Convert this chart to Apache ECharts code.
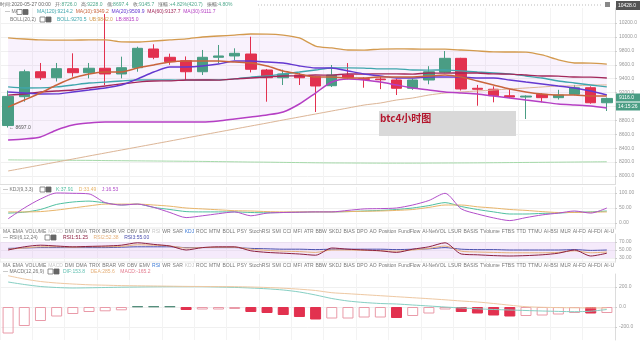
<!DOCTYPE html>
<html><head><meta charset="utf-8">
<script src="https://cdn.jsdelivr.net/npm/echarts@6/dist/echarts.min.js"></script>
<style>html,body{margin:0;padding:0;background:#fff}#c{width:640px;height:341px}</style>
</head><body><div id="c"></div>
<script>
// ---------- data ----------
const categories = ['05-21 08:00','05-21 12:00','05-21 16:00','05-21 20:00','05-22 00:00','05-22 04:00','05-22 08:00','05-22 12:00','05-22 16:00','05-22 20:00',
'05-23 00:00','05-23 04:00','05-23 08:00','05-23 12:00','05-23 16:00','05-23 20:00','05-24 00:00','05-24 04:00','05-24 08:00','05-24 12:00',
'05-24 16:00','05-24 20:00','05-25 00:00','05-25 04:00','05-25 08:00','05-25 12:00','05-25 16:00','05-25 20:00','05-26 00:00','05-26 04:00',
'05-26 08:00','05-26 12:00','05-26 16:00','05-26 20:00','05-27 00:00','05-27 04:00','05-27 08:00','05-27 12:00'];
const openP  = [8726,9141,9500,9414,9544,9486,9550,9468,9558,9827,9708,9659,9500,9708,9727,9755,9525,9414,9453,9429,9299,9453,9400,9395,9381,9262,9381,9492,9693,9262,9248,9155,9136,9175,9127,9175,9270,9054];
const closeP = [9145,9500,9414,9544,9486,9550,9468,9558,9837,9708,9645,9500,9708,9727,9765,9535,9414,9468,9414,9295,9453,9414,9390,9385,9262,9381,9500,9693,9252,9248,9155,9136,9150,9127,9165,9270,9054,9116];
const lowP   = [8697,9069,9381,9360,9429,9405,9309,9405,9500,9680,9600,9381,9453,9621,9669,9490,9069,9309,9309,8921,9280,9390,9270,9250,9165,9240,9320,9480,9230,9011,9060,9120,8820,9060,9100,9160,9040,8935];
const highP  = [9228,9530,9626,9626,9765,9626,10330,9717,9860,9895,9760,9720,9813,9885,9837,10004,9540,9530,9480,9440,9597,9625,9420,9430,9400,9400,9580,9798,9700,9310,9290,9250,9160,9190,9240,9310,9290,9130];
const bollUpper = [9986,9971,9957,9955,9955,9958,9957,9930,9928,9942,9957,9972,10000,10014,10028,10043,10042,10028,9986,9870,9842,9813,9812,9826,9828,9827,9826,9825,9813,9799,9785,9784,9783,9741,9670,9626,9625,9611];
const bollLower = [8518,8532,8561,8662,8734,8762,8777,8777,8776,8777,8778,8777,8777,8791,8820,8849,8878,8921,9036,9194,9352,9396,9381,9352,9309,9266,9237,9209,9194,9180,9151,9122,9093,9065,9036,9021,9007,8978];
const maOrange = [8993,9093,9194,9309,9410,9468,9496,9497,9554,9597,9640,9655,9656,9654,9640,9626,9583,9511,9468,9424,9425,9410,9411,9424,9423,9425,9439,9453,9424,9367,9309,9252,9209,9180,9165,9164,9151,9150];
const maPurple = [9209,9194,9180,9181,9209,9237,9266,9309,9396,9496,9568,9569,9583,9611,9655,9654,9640,9626,9583,9554,9553,9511,9468,9439,9410,9411,9424,9425,9423,9410,9409,9381,9352,9324,9295,9266,9223,9165];
const maTeal   = [9281,9266,9267,9281,9309,9338,9352,9367,9381,9382,9381,9380,9381,9382,9396,9424,9439,9468,9496,9525,9554,9555,9553,9540,9541,9525,9524,9526,9511,9496,9482,9468,9439,9410,9367,9338,9309,9281];
const maMaroon = [9165,9180,9209,9223,9237,9266,9295,9324,9352,9367,9368,9381,9382,9380,9396,9410,9424,9439,9440,9453,9452,9468,9467,9469,9468,9467,9482,9481,9483,9482,9468,9467,9453,9439,9438,9424,9423,9410];
const maTan    = [8072,8115,8158,8201,8244,8288,8331,8374,8417,8460,8503,8547,8590,8633,8676,8719,8762,8806,8849,8892,8935,8978,9021,9050,9093,9122,9165,9194,9209,9223,9237,9252,9266,9281,9295,9296,9309,9310];
const maGreen  = [8232,8230,8229,8228,8226,8225,8222,8220,8218,8216,8214,8212,8210,8207,8204,8201,8199,8196,8193,8190,8188,8187,8186,8185,8185,8185,8186,8187,8188,8189,8191,8193,8195,8197,8199,8201,8203,8205];
const kLine = [33,36,45,62,70,73,67,60,63,52,45,38,37,37,37,35,34,35,36,37,37,38,40,42,45,50,58,68,55,45,37,30,30,32,33,36,37,40];
const dLine = [37,37,38,43,50,57,63,63,63,60,56,50,47,44,41,40,38,37,37,37,37,38,39,40,42,45,52,60,60,54,50,45,42,38,35,35,36,37];
const jLine = [14,50,80,100,99,97,68,60,63,52,35,18,24,31,37,24,33,35,36,37,37,42,47,48,50,60,75,99,47,30,17,8,18,27,33,40,33,50];
const rsi1 = [50,58,62,60,58,59,60,62,68,64,60,50,56,58,58,48,44,42,40,37,55,52,50,48,44,52,58,68,40,38,36,35,36,38,42,50,35,42];
const rsi2 = [52,55,58,58,57,58,58,59,63,62,60,55,56,57,57,52,49,47,46,44,50,50,49,48,47,50,54,60,47,45,44,43,43,43,44,48,43,45];
const rsi3 = [54,55,56,56,56,56,56,57,58,58,58,56,56,56,56,54,53,52,52,51,52,52,52,52,51,52,53,56,52,51,51,50,50,50,50,51,49,50];
const dif = [250,225,205,195,190,192,195,198,200,202,203,203,203,200,196,190,182,170,150,120,85,60,45,35,30,20,10,0,-10,-18,-25,-30,-35,-40,-44,-47,-42,-25];
const dea = [313,280,255,240,230,222,218,214,212,210,208,206,205,204,203,200,195,188,178,165,143,133,123,113,103,93,83,72,60,50,35,18,3,-3,-6,-8,-9,-10];
const macdHist = [-265,-190,-140,-95,-70,-50,-43,-33,6,6,6,-30,-25,-25,-20,-50,-60,-80,-100,-125,-115,-115,-105,-105,-110,-90,-65,-25,-50,-65,-85,-95,-90,-85,-75,-60,-65,-60];
const mainTicks = [8000,8200,8400,8600,8800,9000,9200,9400,9600,9800,10000,10200];
const kdjTicks = [0,50,100];
const rsiTicks = [30,50,70];
const macdTicks = [-200,0,200];
const tabLabels = ['MA','EMA','VOLUME','MACD','DMI','DMA','TRIX','BRAR','VR','OBV','EMV','RSI','WR','SAR','KDJ','ROC','MTM','BOLL','PSY','StochRSI','SMI','CCI','MFI','ATR','BBW','SKDJ','BIAS','DPO','AO','Position','FundFlow','AI-NetVOL','LSUR','BASIS','TVolume','FTBS','TTD','TTMU','AI-BSI','MLR','AI-FD','AI-FDI','AI-U'];

// ---------- styles ----------
const UP = '#4a9d84', DOWN = '#e2314f';
const FF = '"Liberation Sans", Arial, sans-serif';
const F5 = '5px ' + FF;

const chart = echarts.init(document.getElementById('c'));
const grids = [
  {left:-3, right:25, top:8, height:176},
  {left:-3, right:25, top:187, height:42},
  {left:-3, right:25, top:234, height:28},
  {left:-3, right:25, top:274, height:66}
];
const xAxes = grids.map((g,i)=>({type:'category', gridIndex:i, data:categories, boundaryGap:true,
  axisLine:{show:false}, axisTick:{show:false}, axisLabel:{show:false},
  splitLine:{show:true, interval:1, lineStyle:{color:'#f3f3f3', width:1}}}));
function yAx(i, min, max, ticks, dec){
  return {type:'value', gridIndex:i, position:'right', min, max, scale:true,
    axisLine:{show:true, lineStyle:{color:'#dcdcdc'}},
    axisTick:{show:true, customValues:ticks, length:2, lineStyle:{color:'#ccc'}},
    axisLabel:{customValues:ticks, formatter:v=>v.toFixed(dec), fontSize:5, fontFamily:FF, color:'#999', margin:4},
    splitLine:{show:true, lineStyle:{color:'#f0f0f0'}}};
}
const yAxes = [yAx(0,7885,10417,mainTicks,1), yAx(1,-20,120,kdjTicks,2), yAx(2,20,90,rsiTicks,2), yAx(3,-330,330,macdTicks,1)];

function ln(name, data, color, width, xi, z){
  return {name, type:'line', data, xAxisIndex:xi, yAxisIndex:xi, symbol:'none', smooth:0.25,
    lineStyle:{color, width}, itemStyle:{color}, silent:true, z:z||3};
}
const ohlc = categories.map((c,i)=>[openP[i], closeP[i], lowP[i], highP[i]]);
const bandWidth = bollUpper.map((u,i)=>u - bollLower[i]);

const macdBars = macdHist.map((v,i)=>{
  if (v > 0) return {value:v, itemStyle:{color:'#4f8a78', borderColor:'#4f8a78', borderWidth:1}};
  const filled = i > 0 && v < macdHist[i-1];
  return filled ? {value:v, itemStyle:{color:DOWN, borderColor:DOWN, borderWidth:1}}
                : {value:v, itemStyle:{color:'rgba(255,255,255,0)', borderColor:'#e99aa8', borderWidth:1}};
});

const series = [
  {name:'bandBase', type:'line', data:bollLower, stack:'boll', symbol:'none', smooth:0.25, lineStyle:{opacity:0}, silent:true, z:1},
  {name:'bandFill', type:'line', data:bandWidth, stack:'boll', symbol:'none', smooth:0.25, lineStyle:{opacity:0}, areaStyle:{color:'rgba(214,170,240,0.22)'}, silent:true, z:1},
  {name:'K', type:'candlestick', data:ohlc, barWidth:11, z:2,
    itemStyle:{color:UP, color0:DOWN, borderColor:UP, borderColor0:DOWN, borderWidth:1},
    markPoint:{symbol:'circle', symbolSize:0, data:[{type:'min', valueDim:'lowest'}],
      label:{show:true, position:'right', distance:1, formatter:p=>'\u2190 ' + Number(p.value).toFixed(1), fontSize:5, fontFamily:FF, color:'#555'}}},
  ln('green', maGreen, '#a5d9a9', 1, 0),
  ln('tan', maTan, '#dcb596', 1, 0),
  ln('UB', bollUpper, '#d39a4e', 1.3, 0),
  ln('LB', bollLower, '#b53fc4', 1.5, 0),
  ln('teal', maTeal, '#3fa6ad', 1.3, 0),
  ln('maroon', maMaroon, '#a3275a', 1.3, 0),
  ln('purple', maPurple, '#6438d0', 1.4, 0),
  ln('orange', maOrange, '#c9643c', 1.5, 0),
  ln('Kl', kLine, '#4fc0a0', 1, 1),
  ln('Dl', dLine, '#e8b56a', 1, 1),
  ln('Jl', jLine, '#b24fca', 1, 1),
  Object.assign(ln('RSI3', rsi3, '#4b4fae', 1, 2), {markArea:{silent:true, itemStyle:{color:'rgba(214,170,240,0.25)'}, data:[[{yAxis:30},{yAxis:70}]]}}),
  ln('RSI2', rsi2, '#e5b07a', 1, 2),
  ln('RSI1', rsi1, '#8c1f40', 1, 2),
  {name:'MACD', type:'bar', data:macdBars, xAxisIndex:3, yAxisIndex:3, barWidth:11, silent:true, z:2},
  ln('DIF', dif, '#86cfc3', 1, 3),
  ln('DEA', dea, '#eec8a2', 1, 3)
];

// ---------- graphic (headers, tabs, labels) ----------
const g = [];
function txt(x, y, text, fill, font, extra){
  g.push(Object.assign({type:'text', x, y, silent:true, z:100, style:{text, fill, font:font||F5, verticalAlign:'middle'}}, extra||{}));
}
function rich(x, y, parts){
  let t = '', r = {};
  parts.forEach((p,k)=>{ t += '{s'+k+'|'+p[0]+'}'; r['s'+k] = {fill:p[1], font:F5}; });
  g.push({type:'text', x, y, silent:true, z:100, style:{text:t, rich:r, font:F5, verticalAlign:'middle'}});
}
function icons(x, y){
  g.push({type:'rect', x, y:y-2.5, shape:{width:5, height:5}, style:{fill:'#fff', stroke:'#777', lineWidth:0.8}, silent:true, z:100});
  g.push({type:'rect', x:x+6, y:y-2.5, shape:{width:5, height:5}, style:{fill:'#666', stroke:'#666', lineWidth:0.8}, silent:true, z:100});
}
const LBL = '#666', VAL = '#4fa88c';
rich(0, 4.5, [['时间:',LBL],['2020-05-27 00:00   ',LBL],['开:',LBL],['8726.0   ',VAL],['高:',LBL],['9228.0   ',VAL],['低:',LBL],['8697.4   ',VAL],['收:',LBL],['9145.7   ',VAL],['涨幅:',LBL],['+4.82%(420.7)   ',VAL],['振幅:',LBL],['4.80%',VAL]]);
g.push({type:'line', shape:{x1:258, y1:5, x2:603, y2:5}, style:{stroke:'#aaa', lineDash:[1,2], lineWidth:0.8}, silent:true, z:100});
g.push({type:'rect', x:605, y:2, shape:{width:5, height:5}, style:{fill:'#888'}, silent:true, z:100});
g.push({type:'rect', x:616, y:1, shape:{width:24, height:9}, style:{fill:'#555'}, silent:true, z:100});
txt(618, 5.5, '10428.0', '#fff');
txt(5, 12, '\u2014 MA', '#777'); icons(17, 12);
rich(37, 12, [['MA(120):9214.2  ','#3fa6ad'],['MA(10):9349.2  ','#c9643c'],['MA(20):9509.9  ','#6438d0'],['MA(60):9137.7  ','#a3275a'],['MA(30):9111.7','#b53fc4']]);
txt(10, 19.5, 'BOLL(20,2)', '#777'); icons(40, 19.5);
rich(57, 19.5, [['BOLL:9270.5  ','#3fa6ad'],['UB:9842.0  ','#d39a4e'],['LB:8815.0','#b53fc4']]);
// KDJ / RSI / MACD headers
txt(3, 189.5, '\u2014 KDJ(9,3,3)', '#777'); icons(40, 189.5);
rich(56, 189.5, [['K:37.91    ','#4fc0a0'],['D:33.49    ','#e8b56a'],['J:16.53','#b24fca']]);
txt(3, 237.5, '\u2014 RSI(6,12,24)', '#777'); icons(45, 237.5);
rich(63, 237.5, [['RSI1:51.25    ','#8c1f40'],['RSI2:52.38    ','#e5b07a'],['RSI3:55.00','#4b4fae']]);
txt(3, 271.5, '\u2014 MACD(12,26,9)', '#777'); icons(48, 271.5);
rich(63, 271.5, [['DIF:153.8    ','#5fbfb0'],['DEA:285.6    ','#e5b07a'],['MACD:-165.2','#e37b8e']]);
// tab rows
const mc = document.createElement('canvas').getContext('2d'); mc.font = F5;
const widths = tabLabels.map(t=>mc.measureText(t).width);
const totalW = widths.reduce((a,b)=>a+b,0);
const gap = (614 - 3 - totalW) / (tabLabels.length - 1);
function tabRow(y, active, grey){
  let x = 3;
  tabLabels.forEach((t,k)=>{
    const col = t===active ? '#3e7bd6' : (grey.includes(t) ? '#c8c8c8' : '#777');
    txt(x, y, t, col);
    x += widths[k] + gap;
  });
  g.push({type:'line', shape:{x1:0, y1:y-3.5, x2:616, y2:y-3.5}, style:{stroke:'#e6e6e6', lineWidth:0.8}, silent:true, z:99});
}
tabRow(231.5, 'KDJ', ['MACD','RSI']);
tabRow(265.5, 'RSI', ['MACD','KDJ']);
g.push({type:'line', shape:{x1:0, y1:184.5, x2:616, y2:184.5}, style:{stroke:'#dedede', lineWidth:1}, silent:true, z:99});
// watermark
g.push({type:'rect', x:379, y:111, shape:{width:137, height:25}, style:{fill:'#d9d9d9'}, silent:true, z:50});
txt(380, 118.5, 'btc4小时图', '#b3162d', 'bold 10px "Noto Sans CJK SC", sans-serif', {z:51});
// price labels on right
g.push({type:'rect', x:616, y:93.5, shape:{width:24, height:8}, style:{fill:UP}, silent:true, z:100});
txt(619, 97.5, '9116.0', '#fff');
g.push({type:'rect', x:616, y:102.5, shape:{width:24, height:8}, style:{fill:UP}, silent:true, z:100});
txt(618, 106.5, '14:15:26', '#fff');

chart.setOption({
  animation:false, backgroundColor:'#fff',
  grid:grids, xAxis:xAxes, yAxis:yAxes, series, graphic:g
});
</script></body></html>
